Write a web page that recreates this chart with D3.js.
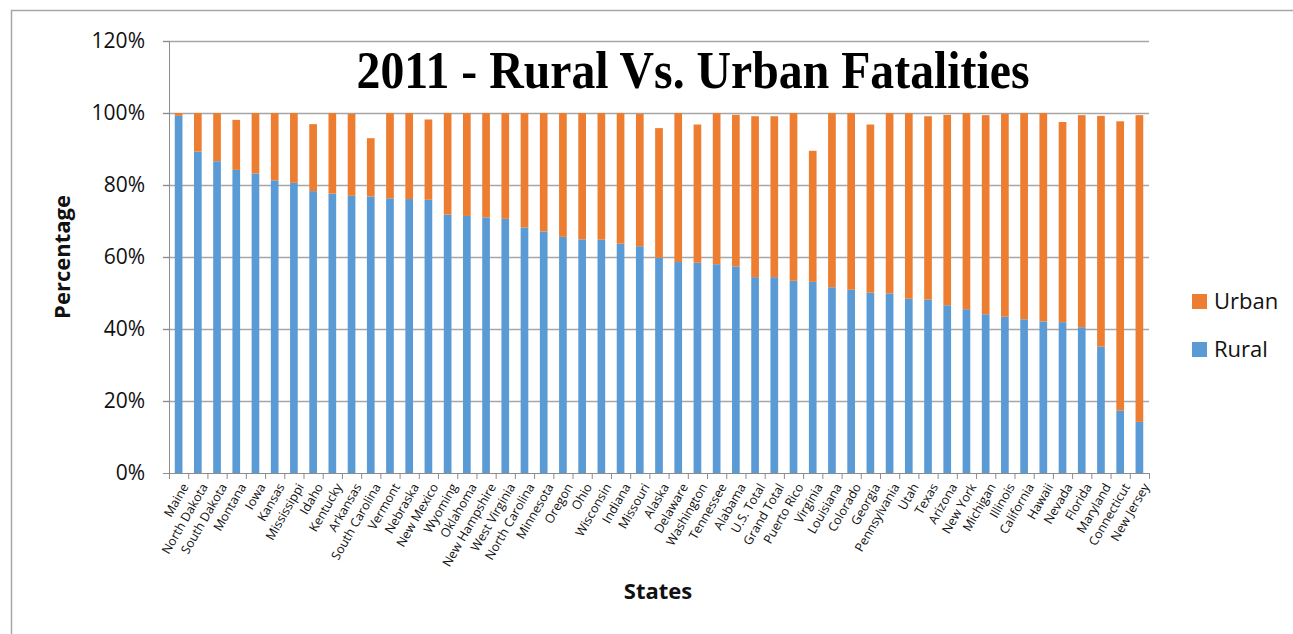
<!DOCTYPE html>
<html>
<head>
<meta charset="utf-8">
<script src="https://cdn.jsdelivr.net/npm/d3@7"></script>
<style>
  body { margin: 0; background: #fff; }
  svg { display: block; }
</style>
</head>
<body>
<div id="chart"></div>
<script>
const states = [
  'Maine', 'North Dakota', 'South Dakota', 'Montana', 'Iowa', 'Kansas',
  'Mississippi', 'Idaho', 'Kentucky', 'Arkansas', 'South Carolina', 'Vermont',
  'Nebraska', 'New Mexico', 'Wyoming', 'Oklahoma', 'New Hampshire',
  'West Virginia', 'North Carolina', 'Minnesota', 'Oregon', 'Ohio',
  'Wisconsin', 'Indiana', 'Missouri', 'Alaska', 'Delaware', 'Washington',
  'Tennessee', 'Alabama', 'U.S. Total', 'Grand Total', 'Puerto Rico',
  'Virginia', 'Louisiana', 'Colorado', 'Georgia', 'Pennsylvania', 'Utah',
  'Texas', 'Arizona', 'New York', 'Michigan', 'Illinois', 'California',
  'Hawaii', 'Nevada', 'Florida', 'Maryland', 'Connecticut', 'New Jersey'
];

// percent of fatalities
const rural = [
  99.2, 89.3, 86.6, 84.2, 83.2, 81.3, 80.6, 78.3, 77.6, 77.0, 76.8, 76.3,
  76.1, 75.9, 71.8, 71.4, 71.0, 70.6, 68.2, 67.1, 65.6, 64.9, 64.8, 63.7,
  63.0, 59.8, 58.6, 58.4, 58.0, 57.4, 54.4, 54.4, 53.4, 53.1, 51.6, 50.9,
  50.1, 49.9, 48.4, 48.2, 46.6, 45.5, 44.1, 43.4, 42.7, 42.1, 41.9, 40.5,
  35.1, 17.3, 14.2
];
const urban = [
  0.8, 10.7, 13.4, 13.9, 16.8, 18.7, 19.4, 18.6, 22.4, 22.8, 16.2, 23.7,
  23.9, 22.3, 28.2, 28.6, 29.0, 29.4, 31.8, 32.9, 34.4, 35.1, 35.2, 36.3,
  36.8, 36.0, 41.4, 38.4, 42.0, 42.1, 44.7, 44.7, 46.6, 36.4, 48.4, 49.1,
  46.7, 50.1, 51.6, 50.9, 52.9, 54.5, 55.3, 56.4, 57.3, 57.9, 55.6, 58.9,
  64.1, 80.4, 85.2
];

const seriesNames = ['Rural', 'Urban'];
const colors = { Rural: '#5b9bd5', Urban: '#ed7d31' };
const yTicks = [0, 20, 40, 60, 80, 100, 120];

const W = 1293, H = 634;
const margin = { top: 41, left: 169, right: 144, bottom: 161 };
const width = W - margin.left - margin.right;
const height = H - margin.top - margin.bottom;
const font = "'Open Sans', sans-serif";

const rows = states.map((s, i) => ({ state: s, Rural: rural[i], Urban: urban[i] }));
const stacked = d3.stack().keys(seriesNames)(rows);

const svg = d3.select('#chart').append('svg')
  .attr('width', W)
  .attr('height', H);

// chart area border
svg.append('rect')
  .attr('x', 11.5).attr('y', 10.5)
  .attr('width', W + 20).attr('height', H + 20)
  .attr('fill', 'none')
  .attr('stroke', '#a6a6a6')
  .attr('stroke-width', 1.5);

const g = svg.append('g')
  .attr('transform', `translate(${margin.left}, ${margin.top})`);

const x = d3.scaleBand().domain(states).range([0, width]).paddingInner(0.6).paddingOuter(0.3);
const y = d3.scaleLinear().domain([0, 120]).range([height, 0]);

// gridlines
g.append('g')
  .selectAll('line')
  .data(yTicks.slice(1))
  .join('line')
  .attr('x1', -6).attr('x2', width)
  .attr('y1', (d) => Math.round(y(d)) + 0.5)
  .attr('y2', (d) => Math.round(y(d)) + 0.5)
  .attr('stroke', '#a6a6a6')
  .attr('stroke-width', 1.5);

// bars
g.append('g')
  .selectAll('g')
  .data(stacked)
  .join('g')
  .attr('fill', (d) => colors[d.key])
  .selectAll('rect')
  .data((d) => d)
  .join('rect')
  .attr('x', (d) => x(d.data.state))
  .attr('width', x.bandwidth())
  .attr('y', (d) => y(d[1]))
  .attr('height', (d) => y(d[0]) - y(d[1]));

// y axis
const yAxis = g.append('g')
  .call(d3.axisLeft(y).tickValues(yTicks).tickSize(6).tickFormat((d) => d + '%'));
yAxis.select('.domain').attr('stroke', '#8c8c8c');
yAxis.selectAll('.tick line').attr('stroke', '#8c8c8c');
yAxis.selectAll('text')
  .attr('x', -24)
  .attr('font-family', font)
  .attr('font-size', 21)
  .attr('fill', '#111');

// x axis
const step = x.step();
const xAxis = g.append('g')
  .attr('transform', `translate(0, ${height})`)
  .call(d3.axisBottom(x).tickSize(0));
xAxis.select('.domain').attr('stroke', '#8c8c8c');
xAxis.append('g')
  .selectAll('line')
  .data(d3.range(states.length + 1))
  .join('line')
  .attr('x1', (i) => i * step + 0.5)
  .attr('x2', (i) => i * step + 0.5)
  .attr('y1', 0).attr('y2', 6)
  .attr('stroke', '#8c8c8c');
xAxis.selectAll('.tick text')
  .attr('font-family', font)
  .attr('font-size', 12.5)
  .attr('fill', '#111')
  .attr('text-anchor', 'end')
  .attr('dy', '0.35em')
  .attr('transform', 'translate(4, 10) rotate(-60)');

// titles
svg.append('text')
  .attr('x', 693).attr('y', 88)
  .attr('text-anchor', 'middle')
  .attr('font-family', "'Liberation Serif', 'Times New Roman', serif")
  .attr('font-weight', 'bold')
  .attr('font-size', 52)
  .attr('textLength', 673)
  .attr('lengthAdjust', 'spacingAndGlyphs')
  .attr('fill', '#000')
  .text('2011 - Rural Vs. Urban Fatalities');

svg.append('text')
  .attr('transform', `translate(70, ${margin.top + y(60)}) rotate(-90)`)
  .attr('text-anchor', 'middle')
  .attr('font-family', font)
  .attr('font-weight', 'bold')
  .attr('font-size', 22)
  .attr('fill', '#111')
  .text('Percentage');

svg.append('text')
  .attr('x', margin.left + width / 2 - 1).attr('y', 599)
  .attr('text-anchor', 'middle')
  .attr('font-family', font)
  .attr('font-weight', 'bold')
  .attr('font-size', 22)
  .attr('fill', '#111')
  .text('States');

// legend (Urban on top like the reference)
const legend = svg.append('g').attr('transform', 'translate(1192, 294)');
const legendItems = legend.selectAll('g')
  .data(['Urban', 'Rural'])
  .join('g')
  .attr('transform', (d, i) => `translate(0, ${i * 48})`);
legendItems.append('rect')
  .attr('width', 15).attr('height', 15)
  .attr('fill', (d) => colors[d]);
legendItems.append('text')
  .attr('x', 22).attr('y', 15)
  .attr('font-family', font)
  .attr('font-size', 22)
  .attr('fill', '#111')
  .text((d) => d);
</script>
</body>
</html>
